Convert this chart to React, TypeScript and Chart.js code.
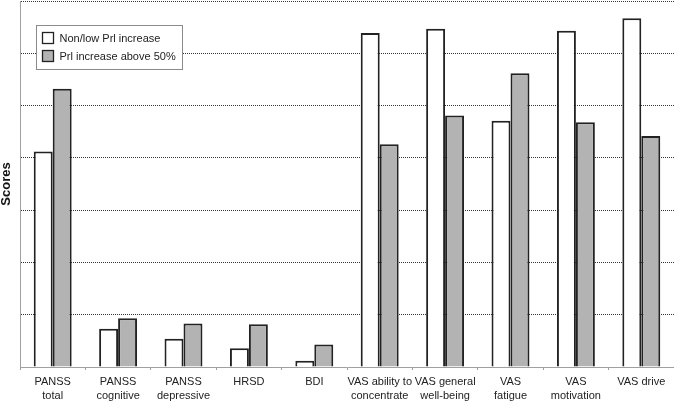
import React, { useEffect, useRef } from "react";
import { Chart, registerables } from "chart.js";

Chart.register(...registerables);

const categories: (string | string[])[] = [
  ["PANSS", "total"],
  ["PANSS", "cognitive"],
  ["PANSS", "depressive"],
  "HRSD",
  "BDI",
  ["VAS ability to", "concentrate"],
  ["VAS general", "well-being"],
  ["VAS", "fatigue"],
  ["VAS", "motivation"],
  "VAS drive",
];

const nonLowPrl = [41.2, 7.3, 5.4, 3.6, 1.2, 63.9, 64.7, 47.1, 64.3, 66.7];
const prlAbove50 = [53.2, 9.3, 8.3, 8.2, 4.3, 42.6, 48.1, 56.2, 46.8, 44.2];

const seriesNames = ["Non/low Prl increase", "Prl increase above 50%"];
const yAxisTitle = "Scores";
const yMax = 70;
const yStep = 10;

const FONT = "'Liberation Sans', Arial, sans-serif";

const legendPlugin = {
  id: "floatingLegend",
  afterDraw(chart: any) {
    const ctx = chart.ctx;
    const x = 36, y = 25, w = 146, h = 44;
    ctx.save();
    ctx.fillStyle = "#ffffff";
    ctx.fillRect(x, y, w, h);
    ctx.strokeStyle = "#8a8a8a";
    ctx.lineWidth = 1;
    ctx.strokeRect(x + 0.5, y + 0.5, w, h);
    ctx.font = `11px ${FONT}`;
    ctx.textBaseline = "middle";
    chart.data.datasets.forEach((ds: any, i: number) => {
      const sy = y + 7.5 + i * 18;
      ctx.fillStyle = ds.backgroundColor;
      ctx.fillRect(x + 6.5, sy, 11, 11);
      ctx.strokeStyle = "#222222";
      ctx.lineWidth = 1.3;
      ctx.strokeRect(x + 6.5, sy, 11, 11);
      ctx.fillStyle = "#222222";
      ctx.fillText(ds.label, x + 23.5, sy + 6);
    });
    ctx.restore();
  },
};

export default function App() {
  const canvasRef = useRef<HTMLCanvasElement | null>(null);

  useEffect(() => {
    if (!canvasRef.current) return;
    const chart = new Chart(canvasRef.current, {
      type: "bar",
      data: {
        labels: categories,
        datasets: [
          {
            label: seriesNames[0],
            data: nonLowPrl,
            backgroundColor: "#ffffff",
            borderColor: "#222222",
            borderWidth: 2,
            barPercentage: 1,
            categoryPercentage: 0.58,
          },
          {
            label: seriesNames[1],
            data: prlAbove50,
            backgroundColor: "#b3b3b3",
            borderColor: "#222222",
            borderWidth: 2,
            barPercentage: 1,
            categoryPercentage: 0.58,
          },
        ],
      },
      options: {
        responsive: false,
        animation: false,
        layout: { padding: { top: 1, right: 0, left: 0, bottom: 0 } },
        plugins: {
          legend: { display: false },
          tooltip: { enabled: false },
        },
        scales: {
          x: {
            grid: {
              display: true,
              drawOnChartArea: false,
              drawTicks: true,
              tickLength: 3,
              offset: true,
              color: "#a0a0a0",
            },
            border: { display: true, color: "#a0a0a0", width: 1 },
            ticks: {
              color: "#222222",
              font: { family: FONT, size: 11, lineHeight: 1.27 },
              padding: 5,
              maxRotation: 0,
              autoSkip: false,
            },
            afterFit(scale: any) {
              scale.height = 35;
            },
          },
          y: {
            min: 0,
            max: yMax,
            ticks: { display: false, stepSize: yStep },
            grid: {
              drawTicks: false,
              color: (c: any) => (c.tick && c.tick.value === 0 ? "rgba(0,0,0,0)" : "#333333"),
              lineWidth: 1,
            },
            border: { display: true, color: "#a0a0a0", width: 1, dash: [1, 1] },
            title: {
              display: true,
              text: yAxisTitle,
              color: "#111111",
              font: { family: FONT, size: 13, weight: "bold", lineHeight: 1 },
              padding: 0,
            },
            afterFit(scale: any) {
              scale.width = 20;
            },
          },
        },
      },
      plugins: [legendPlugin],
    });
    return () => chart.destroy();
  }, []);

  return (
    <div style={{ position: "fixed", left: 0, top: 0, width: 674, height: 402, background: "#fff" }}>
      <canvas ref={canvasRef} width={674} height={402} style={{ display: "block" }} />
    </div>
  );
}
